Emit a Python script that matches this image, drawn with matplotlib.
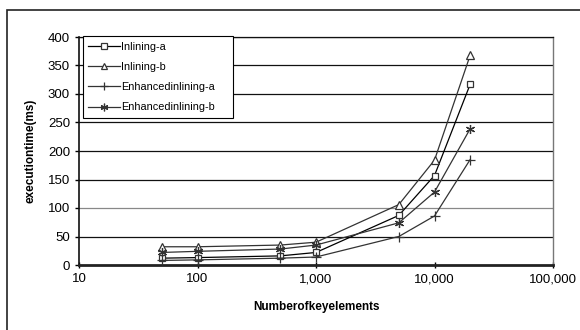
import matplotlib
matplotlib.use("Agg")
import matplotlib.pyplot as plt
from matplotlib.patches import Rectangle

x_elements = [50, 100, 500, 1000, 5000, 10000, 20000]
inlining_a = [12, 13, 16, 22, 87, 157, 317]
inlining_b = [32, 32, 35, 40, 106, 184, 368]
enhanced_a = [8, 9, 12, 14, 50, 86, 185]
enhanced_b = [22, 24, 28, 35, 74, 128, 239]
series_names = ["Inlining-a", "Inlining-b", "Enhancedinlining-a", "Enhancedinlining-b"]
x_ticks = [10, 100, 1000, 10000, 100000]
x_tick_labels = ["10", "100", "1,000", "10,000", "100,000"]
y_ticks = [0, 50, 100, 150, 200, 250, 300, 350, 400]

plt.rcParams['font.family'] = ['Liberation Sans', 'DejaVu Sans']

fig = plt.figure(figsize=(5.8, 3.3), dpi=100)
fig.patch.set_facecolor('white')
# outer chart border (extends off the right and bottom edges)
fig.patches.append(Rectangle((7/580, -0.1), 1.2, (330-10)/330 + 0.1,
                             transform=fig.transFigure, fill=False,
                             edgecolor='#222222', linewidth=1.2))

ax = fig.add_axes([79/580, (330-265)/330, (553-79)/580, (265-37)/330])
ax.set_xscale('log')
ax.set_xlim(10, 100000)
ax.set_ylim(0, 400)

for yv in y_ticks[1:]:
    ax.axhline(yv, color='#111111' if yv != 100 else '#888888', linewidth=0.9, zorder=1)

col = '#333333'
ax.plot(x_elements, inlining_a, color='black', linewidth=0.9, marker='s', markersize=5,
        markerfacecolor='white', markeredgecolor=col, markeredgewidth=0.9, label=series_names[0], zorder=3)
ax.plot(x_elements, inlining_b, color=col, linewidth=0.9, marker='^', markersize=5.5,
        markerfacecolor='white', markeredgecolor=col, markeredgewidth=0.9, label=series_names[1], zorder=3)
ax.plot(x_elements, enhanced_a, color=col, linewidth=0.9, marker='+', markersize=7,
        markeredgecolor=col, markeredgewidth=0.9, label=series_names[2], zorder=3)
ax.plot(x_elements, enhanced_b, color=col, linewidth=0.9, marker=(6, 2, 0), markersize=6.5,
        markeredgecolor=col, markeredgewidth=0.9, label=series_names[3], zorder=3)

ax.set_xticks(x_ticks)
ax.set_xticklabels(x_tick_labels)
ax.xaxis.set_minor_locator(matplotlib.ticker.NullLocator())
ax.set_yticks(y_ticks)
ax.tick_params(axis='both', labelsize=9.5, colors='black', length=4, width=1, direction='inout')
ax.tick_params(axis='y', direction='out', length=3)
ax.tick_params(axis='x', pad=4)

ax.spines['top'].set_color('#111111')
ax.spines['top'].set_linewidth(0.9)
ax.spines['right'].set_color('#777777')
ax.spines['right'].set_linewidth(1)
ax.spines['left'].set_color('#111111')
ax.spines['left'].set_linewidth(1.2)
ax.spines['bottom'].set_color('#222222')
ax.spines['bottom'].set_linewidth(2)

ax.set_xlabel('Numberofkeyelements', fontsize=8.5, fontweight='bold', labelpad=11)
ax.set_ylabel('executiontime(ms)', fontsize=8.5, fontweight='bold', labelpad=8)

x0 = (83 - 79) / 474
w = (233 - 83) / 474
leg = ax.legend(loc='upper left', bbox_to_anchor=(x0, 1.004, w, 0), mode='expand',
                fontsize=7.8, frameon=True, markerscale=0.85,
                fancybox=False, edgecolor='black', framealpha=1, borderpad=0.5,
                labelspacing=0.95, handlelength=2.9, handletextpad=0.1, borderaxespad=0)
leg.get_frame().set_linewidth(0.8)

fig.savefig('out.png', dpi=100, facecolor='white')
